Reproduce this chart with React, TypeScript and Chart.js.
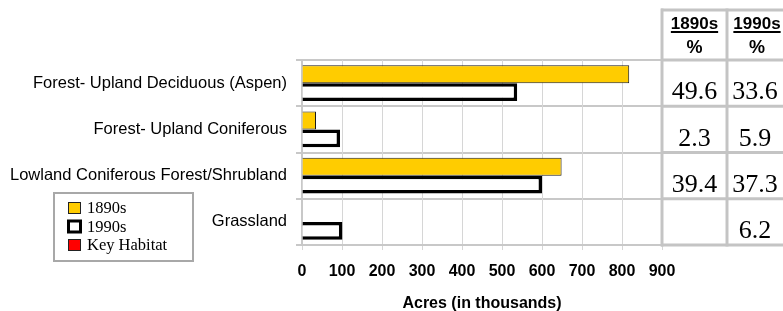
import React, { useEffect, useRef } from 'react';
import { Chart, registerables } from 'chart.js';

Chart.register(...registerables);

const categories = [
  'Forest- Upland Deciduous (Aspen)',
  'Forest- Upland Coniferous',
  'Lowland Coniferous Forest/Shrubland',
  'Grassland',
];
const acres1890s: (number | null)[] = [818, 35, 649, null];
const acres1990s: (number | null)[] = [538, 95, 600, 101];
const pct1890s: (number | null)[] = [49.6, 2.3, 39.4, null];
const pct1990s: (number | null)[] = [33.6, 5.9, 37.3, 6.2];
const tableHeaders = ['1890s', '1990s'];
const tableSubHeader = '%';
const legendLabels = ['1890s', '1990s', 'Key Habitat'];
const legendFills = ['#FFCC00', '#FFFFFF', '#FF0000'];
const xMin = 0;
const xMax = 900;
const xStep = 100;
const xTitle = 'Acres (in thousands)';

const SANS = "'Liberation Sans', Arial, sans-serif";
const SERIF = "'Liberation Serif', 'Times New Roman', serif";

const tablePlugin = {
  id: 'pctTable',
  afterDraw(chart: any) {
    const { ctx, chartArea, scales } = chart;
    const y = scales.y;
    const colW = 65;
    const left = chartArea.right;
    const cols = [left, left + colW];
    const centers = [left + colW / 2, left + colW + 28];
    const headTop = chartArea.top - 50;
    const half = (y.getPixelForValue(1) - y.getPixelForValue(0)) / 2;
    const bottom = chartArea.bottom;
    ctx.save();
    ctx.strokeStyle = '#c4c4c4';
    ctx.lineWidth = 3;
    const hs = [headTop, chartArea.top];
    categories.forEach((_, i) => hs.push(y.getPixelForValue(i) + half));
    hs.forEach((hy) => {
      ctx.beginPath();
      ctx.moveTo(left - 1, hy);
      ctx.lineTo(chart.width + 20, hy);
      ctx.stroke();
    });
    cols.forEach((vx) => {
      ctx.beginPath();
      ctx.moveTo(vx, headTop - 1.5);
      ctx.lineTo(vx, bottom + 1.5);
      ctx.stroke();
    });
    ctx.fillStyle = '#000';
    ctx.textAlign = 'center';
    ctx.textBaseline = 'middle';
    tableHeaders.forEach((h, c) => {
      const cx = c === 0 ? centers[0] : centers[1] + 2;
      ctx.font = `bold 17px ${SANS}`;
      ctx.fillText(h, cx, headTop + 14);
      const w = ctx.measureText(h).width;
      ctx.strokeStyle = '#000';
      ctx.lineWidth = 2;
      ctx.beginPath();
      ctx.moveTo(cx - w / 2, headTop + 22);
      ctx.lineTo(cx + w / 2, headTop + 22);
      ctx.stroke();
      ctx.font = `bold 18px ${SANS}`;
      ctx.fillText(tableSubHeader, cx, headTop + 38);
    });
    ctx.font = `26px ${SERIF}`;
    ctx.textBaseline = 'alphabetic';
    [pct1890s, pct1990s].forEach((arr, c) => {
      arr.forEach((v, i) => {
        if (v === null) return;
        const rb = y.getPixelForValue(i) + half;
        ctx.fillText(v.toFixed(1), centers[c], rb - 7);
      });
    });
    ctx.restore();
  },
};

const legendPlugin = {
  id: 'boxLegend',
  afterDraw(chart: any) {
    const { ctx } = chart;
    ctx.save();
    const bx = 54, by = 193, bw = 139, bh = 68;
    ctx.fillStyle = '#fff';
    ctx.fillRect(bx, by, bw, bh);
    ctx.strokeStyle = '#a8a8a8';
    ctx.lineWidth = 2;
    ctx.strokeRect(bx, by, bw, bh);
    legendLabels.forEach((label, i) => {
      const cy = 208 + i * 18.5;
      if (i === 1) {
        ctx.fillStyle = '#000';
        ctx.fillRect(67, cy - 7, 15, 14);
        ctx.fillStyle = legendFills[i];
        ctx.fillRect(70, cy - 4, 9, 8);
      } else {
        ctx.fillStyle = legendFills[i];
        ctx.fillRect(68, cy - 6, 13, 12);
        ctx.strokeStyle = '#222';
        ctx.lineWidth = 1;
        ctx.strokeRect(68.5, cy - 5.5, 12, 11);
      }
      ctx.fillStyle = '#000';
      ctx.font = `16.5px ${SERIF}`;
      ctx.textAlign = 'left';
      ctx.textBaseline = 'middle';
      ctx.fillText(label, 87, cy + 1);
    });
    ctx.restore();
  },
};

export default function App() {
  const ref = useRef<HTMLCanvasElement | null>(null);
  useEffect(() => {
    if (!ref.current) return;
    const chart = new Chart(ref.current, {
      type: 'bar',
      data: {
        labels: categories,
        datasets: [
          {
            label: '1890s',
            data: acres1890s,
            backgroundColor: '#FFCC00',
            borderColor: '#1a1a1a',
            borderWidth: 1,
            categoryPercentage: 0.77,
            barPercentage: 1.0,
          },
          {
            label: '1990s',
            data: acres1990s,
            backgroundColor: '#FFFFFF',
            borderColor: '#000000',
            borderWidth: 3.5,
            categoryPercentage: 0.77,
            barPercentage: 1.0,
          },
        ],
      },
      options: {
        indexAxis: 'y',
        animation: false,
        responsive: true,
        maintainAspectRatio: false,
        layout: { padding: { top: 60, right: 121, left: 0, bottom: 0 } },
        plugins: {
          legend: { display: false },
          tooltip: { enabled: false },
        },
        scales: {
          y: {
            type: 'category',
            afterFit: (s: any) => {
              s.width = 302;
            },
            grid: {
              color: '#c8c8c8',
              lineWidth: 2,
              tickLength: 6,
              offset: true,
            },
            border: { color: '#c8c8c8', width: 2 },
            ticks: {
              color: '#000',
              padding: 9,
              font: { family: SANS, size: 16.5 },
            },
          },
          x: {
            type: 'linear',
            min: xMin,
            max: xMax,
            afterFit: (s: any) => {
              s.height = 66;
            },
            grid: { color: '#d6d6d6', lineWidth: 1, tickLength: 5 },
            border: { color: '#c8c8c8', width: 2 },
            ticks: {
              stepSize: xStep,
              color: '#000',
              padding: 12,
              font: { family: SANS, size: 16, weight: 'bold' },
            },
            title: {
              display: true,
              text: xTitle,
              color: '#000',
              padding: { top: 0, bottom: -2 },
              font: { family: SANS, size: 16, weight: 'bold' },
            },
          },
        },
      },
      plugins: [tablePlugin, legendPlugin],
    } as any);
    return () => chart.destroy();
  }, []);
  return (
    <div style={{ position: 'fixed', left: 0, top: 0, width: 783, height: 311, background: '#fff' }}>
      <canvas ref={ref} />
    </div>
  );
}
